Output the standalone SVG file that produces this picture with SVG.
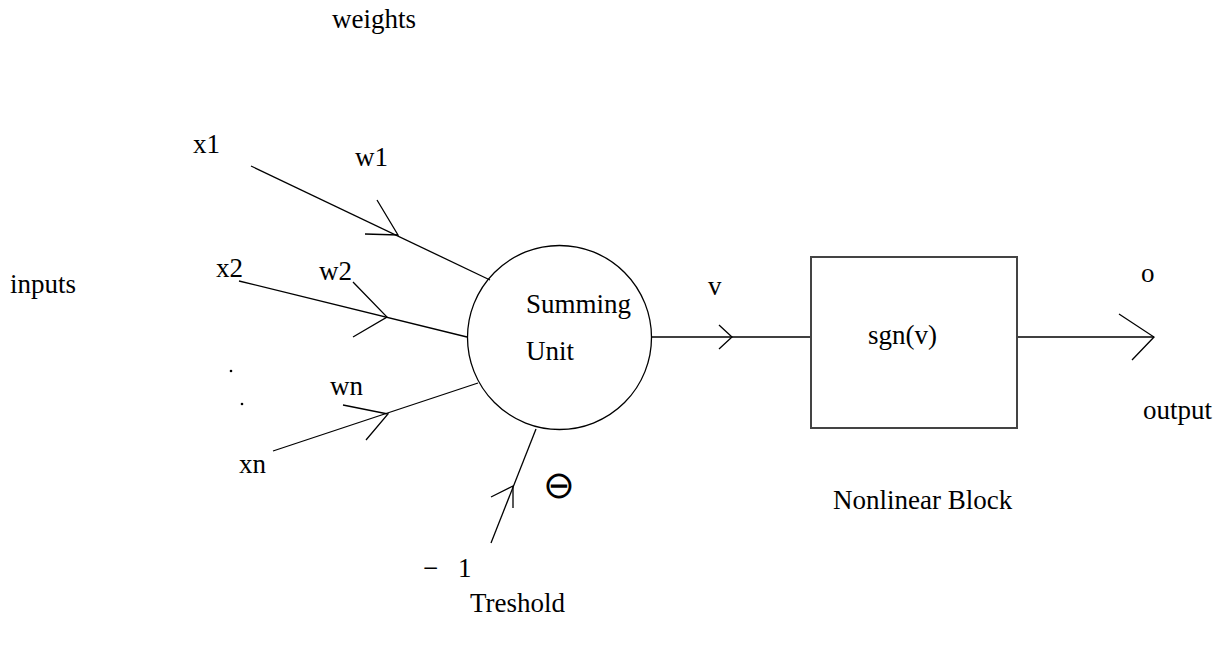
<svg xmlns="http://www.w3.org/2000/svg" width="1221" height="651" viewBox="0 0 1221 651">
<style>
text{font-family:"Liberation Serif","Times New Roman",serif;font-size:27px;fill:#000}
.ln{stroke:#000;stroke-width:1.3;fill:none}
.box{stroke:#444;stroke-width:2;fill:#fff}
.sym{font-family:"DejaVu Sans",sans-serif;font-size:38px;font-weight:200}
</style>
<rect width="1221" height="651" fill="#fff"/>
<g id="connectors">
<polyline class="ln" points="251,166 490,280"/>
<polyline class="ln" points="377,200 398,235 365,234"/>
<polyline class="ln" points="239,281 467,337"/>
<polyline class="ln" points="353,282 387,317 353,337"/>
<polyline class="ln" points="273,451 478,383"/>
<polyline class="ln" points="343,405 388,414 366,440"/>
<polyline class="ln" points="491,543 536,429"/>
<polyline class="ln" points="491,497 513,486 513,508"/>
<polyline class="ln" points="652,337 811,337"/>
<polyline class="ln" points="719,325 732,337 719,349"/>
<polyline class="ln" points="1017,337 1154,337"/>
<polyline class="ln" points="1119,314 1154,337 1132,360"/>
</g>
<g id="summing-unit">
<circle class="ln" cx="559.5" cy="337.5" r="92"/>
<text x="526" y="313">Summing</text>
<text x="526" y="360">Unit</text>
</g>
<g id="nonlinear-block">
<rect class="box" x="811" y="257" width="206" height="171"/>
<text x="868" y="344">sgn(v)</text>
<text x="833" y="509">Nonlinear Block</text>
</g>
<g id="labels">
<text x="332" y="28">weights</text>
<text x="10" y="293">inputs</text>
<text x="193" y="153">x1</text>
<text x="355" y="166">w1</text>
<text x="216" y="277">x2</text>
<text x="319" y="280">w2</text>
<text x="330" y="395">wn</text>
<text x="239" y="473">xn</text>
<circle cx="231" cy="371" r="1.3" fill="#000"/>
<circle cx="242" cy="404" r="1.3" fill="#000"/>
<text x="708" y="295">v</text>
<text x="1141" y="282">o</text>
<text x="1143" y="419">output</text>
<text y="577"><tspan x="423">−</tspan><tspan x="458">1</tspan></text>
<text class="sym" x="559" y="498" text-anchor="middle">⊖</text>
<text x="470" y="612">Treshold</text>
</g>
</svg>
